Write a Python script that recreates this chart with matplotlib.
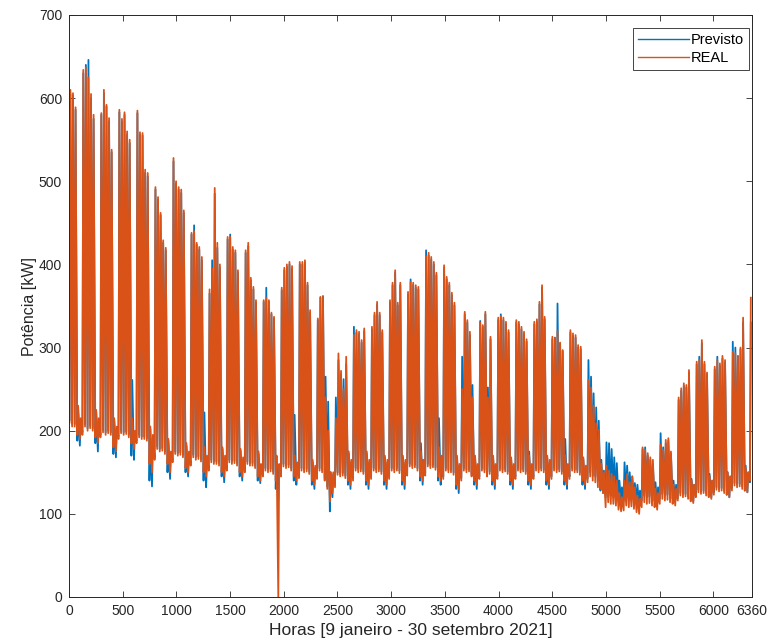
import numpy as np
import matplotlib
matplotlib.use("Agg")
import matplotlib.pyplot as plt

plt.rcParams['font.family'] = ['Liberation Sans', 'DejaVu Sans']

# ---- values (kW) ----
# Week 0 has 3 working days (hours 0-72); weeks 1..37 have 5 working days + 2 weekend days,
# and the series ends with one more working day.
real_weekday_peaks = [
    [610, 606, 589],
    [634, 637, 625, 605, 580],
    [582, 610, 592, 576, 538],
    [586, 575, 583, 560, 550],
    [585, 559, 558, 514, 510],
    [493, 481, 462, 429, 420],
    [528, 500, 493, 490, 465],
    [438, 440, 426, 421, 409],
    [370, 395, 492, 426, 400],
    [433, 433, 421, 417, 393],
    [417, 426, 384, 373, 357],
    [357, 360, 357, 342, 337],
    [372, 396, 400, 403, 398],
    [403, 403, 405, 378, 345],
    [335, 361, 361, 240, 200],
    [215, 293, 272, 250, 289],
    [315, 321, 319, 309, 323],
    [325, 342, 355, 342, 321],
    [357, 378, 393, 354, 378],
    [367, 379, 378, 375, 373],
    [410, 414, 409, 403, 390],
    [399, 385, 378, 366, 354],
    [250, 343, 333, 319, 240],
    [330, 327, 343, 240, 313],
    [336, 338, 336, 331, 321],
    [333, 331, 325, 319, 310],
    [331, 334, 355, 375, 337],
    [313, 311, 320, 306, 297],
    [321, 317, 315, 303, 301],
    [261, 252, 230, 209, 201],
    [158, 152, 148, 145, 140],
    [140, 148, 138, 145, 132],
    [180, 177, 173, 168, 165],
    [183, 177, 189, 191, 175],
    [240, 251, 257, 255, 273],
    [283, 285, 309, 283, 270],
    [277, 285, 281, 290, 285],
    [295, 293, 289, 300, 336],
]
real_weekend_peaks = [
    [230, 215], [225, 215], [215, 205], [215, 200], [205, 195], [190, 175],
    [185, 175], [180, 170], [180, 170], [178, 168], [175, 160], [170, 160],
    [170, 162], [165, 158], [150, 150], [175, 165], [175, 165], [170, 165],
    [170, 165], [175, 165], [180, 170], [170, 160], [170, 160], [170, 160],
    [168, 160], [170, 160], [170, 165], [170, 160], [168, 158], [160, 150],
    [125, 120], [122, 118], [130, 125], [135, 130], [140, 135], [145, 140],
    [150, 145], [155, 150],
]
real_weekday_mins = [
    [210, 205, 205],
    [195, 205, 200, 203, 200],
    [192, 198, 195, 197, 195],
    [190, 197, 195, 196, 192],
    [185, 192, 190, 190, 188],
    [165, 178, 175, 176, 172],
    [162, 172, 170, 171, 168],
    [158, 168, 165, 166, 163],
    [152, 162, 160, 160, 158],
    [152, 162, 160, 161, 158],
    [150, 160, 158, 158, 155],
    [145, 152, 150, 151, 148],
    [145, 157, 155, 156, 152],
    [143, 152, 150, 151, 148],
    [142, 152, 150, 140, 130],
    [132, 147, 145, 146, 143],
    [140, 152, 150, 151, 148],
    [142, 152, 150, 151, 148],
    [142, 152, 150, 152, 149],
    [146, 157, 155, 156, 152],
    [146, 157, 155, 156, 153],
    [142, 152, 150, 150, 147],
    [140, 152, 150, 151, 145],
    [142, 152, 150, 145, 148],
    [142, 152, 150, 151, 148],
    [142, 152, 150, 151, 148],
    [142, 152, 150, 152, 150],
    [142, 152, 150, 151, 148],
    [142, 152, 150, 150, 147],
    [138, 145, 140, 138, 132],
    [108, 114, 112, 112, 110],
    [104, 110, 108, 109, 106],
    [108, 114, 112, 113, 110],
    [112, 118, 116, 117, 114],
    [116, 122, 120, 121, 118],
    [120, 126, 124, 125, 122],
    [123, 129, 127, 128, 125],
    [128, 134, 132, 133, 130],
]
real_weekend_mins = [
    [195, 190], [192, 185], [180, 175], [185, 178], [160, 150], [160, 150],
    [155, 150], [150, 145], [150, 145], [150, 145], [145, 140], [140, 0],
    [145, 140], [140, 135], [115, 125], [140, 135], [140, 135], [140, 135],
    [140, 135], [145, 140], [145, 140], [135, 130], [140, 135], [140, 135],
    [140, 135], [140, 135], [140, 135], [140, 135], [140, 135], [130, 125],
    [105, 103], [102, 100], [108, 105], [112, 110], [115, 113], [120, 118],
    [123, 120], [128, 126],
]
real_last_peak, real_last_min = 360, 140

prev_weekday_peaks = [
    [605, 603, 586],
    [630, 640, 646, 600, 575],
    [580, 606, 590, 572, 535],
    [583, 572, 580, 556, 546],
    [582, 556, 555, 510, 506],
    [490, 478, 459, 426, 417],
    [524, 497, 490, 486, 462],
    [436, 447, 424, 418, 405],
    [365, 405, 485, 420, 396],
    [430, 436, 418, 414, 390],
    [414, 422, 381, 370, 354],
    [355, 372, 355, 340, 335],
    [369, 393, 397, 400, 395],
    [400, 400, 402, 375, 342],
    [333, 360, 362, 265, 235],
    [240, 285, 268, 262, 280],
    [325, 318, 316, 306, 320],
    [322, 339, 352, 339, 318],
    [354, 375, 390, 351, 375],
    [364, 382, 375, 372, 370],
    [417, 411, 406, 400, 387],
    [396, 382, 375, 363, 351],
    [289, 340, 330, 315, 255],
    [332, 325, 340, 252, 310],
    [333, 340, 333, 328, 318],
    [330, 328, 322, 316, 307],
    [328, 331, 352, 372, 334],
    [310, 312, 353, 305, 296],
    [318, 314, 312, 300, 298],
    [285, 265, 245, 228, 212],
    [186, 185, 178, 168, 161],
    [162, 158, 150, 145, 137],
    [178, 180, 170, 165, 160],
    [197, 180, 185, 188, 172],
    [237, 248, 254, 252, 270],
    [280, 289, 305, 280, 268],
    [274, 289, 278, 287, 282],
    [307, 300, 290, 298, 330],
]
prev_weekend_peaks = [
    [225, 212], [222, 212], [212, 202], [261, 198], [202, 192], [188, 172],
    [182, 172], [222, 168], [178, 166], [176, 165], [172, 158], [168, 158],
    [219, 160], [162, 155], [150, 148], [172, 162], [172, 162], [168, 162],
    [168, 162], [185, 165], [215, 168], [168, 158], [168, 158], [168, 158],
    [166, 158], [175, 158], [168, 162], [190, 158], [166, 156], [165, 152],
    [140, 132], [135, 128], [138, 132], [140, 135], [142, 135], [148, 140],
    [150, 145], [158, 150],
]
prev_weekday_mins = [
    [213, 208, 208],
    [198, 208, 203, 206, 203],
    [195, 201, 198, 200, 198],
    [193, 200, 198, 199, 195],
    [188, 195, 193, 193, 191],
    [168, 181, 178, 179, 175],
    [165, 175, 173, 174, 171],
    [161, 171, 168, 169, 166],
    [155, 165, 163, 163, 161],
    [155, 165, 163, 164, 161],
    [153, 163, 161, 161, 158],
    [148, 155, 153, 154, 151],
    [148, 160, 158, 159, 155],
    [146, 155, 153, 154, 151],
    [145, 155, 153, 143, 133],
    [135, 150, 148, 149, 146],
    [143, 155, 153, 154, 151],
    [145, 155, 153, 154, 151],
    [145, 155, 153, 155, 152],
    [149, 160, 158, 159, 155],
    [149, 160, 158, 159, 156],
    [145, 155, 153, 153, 150],
    [143, 155, 153, 154, 148],
    [145, 155, 153, 148, 151],
    [145, 155, 153, 154, 151],
    [145, 155, 153, 154, 151],
    [145, 155, 153, 155, 153],
    [145, 155, 153, 154, 151],
    [145, 155, 153, 153, 150],
    [142, 150, 146, 145, 140],
    [120, 125, 122, 122, 118],
    [116, 122, 120, 120, 117],
    [116, 122, 120, 121, 118],
    [118, 124, 122, 123, 120],
    [119, 125, 123, 124, 121],
    [123, 129, 127, 128, 125],
    [126, 132, 130, 131, 128],
    [131, 137, 135, 136, 133],
]
prev_weekend_mins = [
    [188, 182], [185, 175], [172, 168], [170, 165], [140, 133], [150, 142],
    [150, 145], [140, 132], [145, 138], [145, 140], [140, 137], [130, 117],
    [140, 135], [135, 130], [103, 120], [135, 130], [135, 130], [135, 130],
    [135, 130], [140, 135], [140, 135], [130, 125], [135, 130], [135, 130],
    [135, 130], [135, 130], [135, 130], [135, 130], [135, 130], [128, 125],
    [118, 115], [115, 112], [115, 112], [118, 115], [118, 115], [122, 120],
    [123, 120], [128, 126],
]
prev_last_peak, prev_last_min = 330, 138

x_ticks = [0, 500, 1000, 1500, 2000, 2500, 3000, 3500, 4000, 4500, 5000, 5500, 6000, 6360]
y_ticks = [0, 100, 200, 300, 400, 500, 600, 700]


def assemble(wd_peaks, we_peaks, wd_mins, we_mins, last_peak, last_min):
    peaks, mins = [], []
    for k in range(len(wd_peaks)):
        peaks += wd_peaks[k]
        mins += wd_mins[k]
        peaks += we_peaks[k]
        mins += we_mins[k]
    peaks.append(last_peak)
    mins.append(last_min)
    xs, ys = [], []
    for d, (lo, hi) in enumerate(zip(mins, peaks)):
        xs += [24 * d + 5, 24 * d + 13]
        ys += [lo, hi]
    return np.array(xs), np.array(ys)


xp, yp = assemble(prev_weekday_peaks, prev_weekend_peaks, prev_weekday_mins,
                  prev_weekend_mins, prev_last_peak, prev_last_min)
xr, yr = assemble(real_weekday_peaks, real_weekend_peaks, real_weekday_mins,
                  real_weekend_mins, real_last_peak, real_last_min)

W, H = 770, 644
fig = plt.figure(figsize=(W / 100, H / 100), dpi=100)
ax = fig.add_axes([69 / W, (H - 597) / H, 683 / W, 582 / H])

ax.plot(xp, yp, color='#0072BD', lw=1.3, label='Previsto')
ax.plot(xr, yr, color='#D95319', lw=1.3, label='REAL')

ax.set_xlim(0, 6360)
ax.set_ylim(0, 700)
ax.set_xticks(x_ticks)
ax.set_yticks(y_ticks)
ax.tick_params(direction='in', length=4, width=0.6, top=True, right=True,
               labelsize=10, colors='#262626', pad=5)
for s in ax.spines.values():
    s.set_color('#262626')
    s.set_linewidth(0.7)

ax.set_xlabel('Horas [9 janeiro - 30 setembro 2021]', fontsize=12.5, color='#262626', va='top')
ax.xaxis.set_label_coords(0.5, -0.044)
ax.set_ylabel('Potência [kW]', fontsize=11.5, color='#262626')
ax.yaxis.set_label_coords(-0.047, 0.5)

leg = ax.legend(loc='upper right', bbox_to_anchor=(0.995, 0.977), borderaxespad=0,
                fontsize=10.5, frameon=True, fancybox=False, edgecolor='#262626',
                framealpha=1, borderpad=0.35, handlelength=3.5, handletextpad=0.1,
                labelspacing=0.25)
leg.get_frame().set_linewidth(0.6)
for h in leg.get_lines():
    h.set_linewidth(1.0)

fig.savefig('out.png', dpi=100)
